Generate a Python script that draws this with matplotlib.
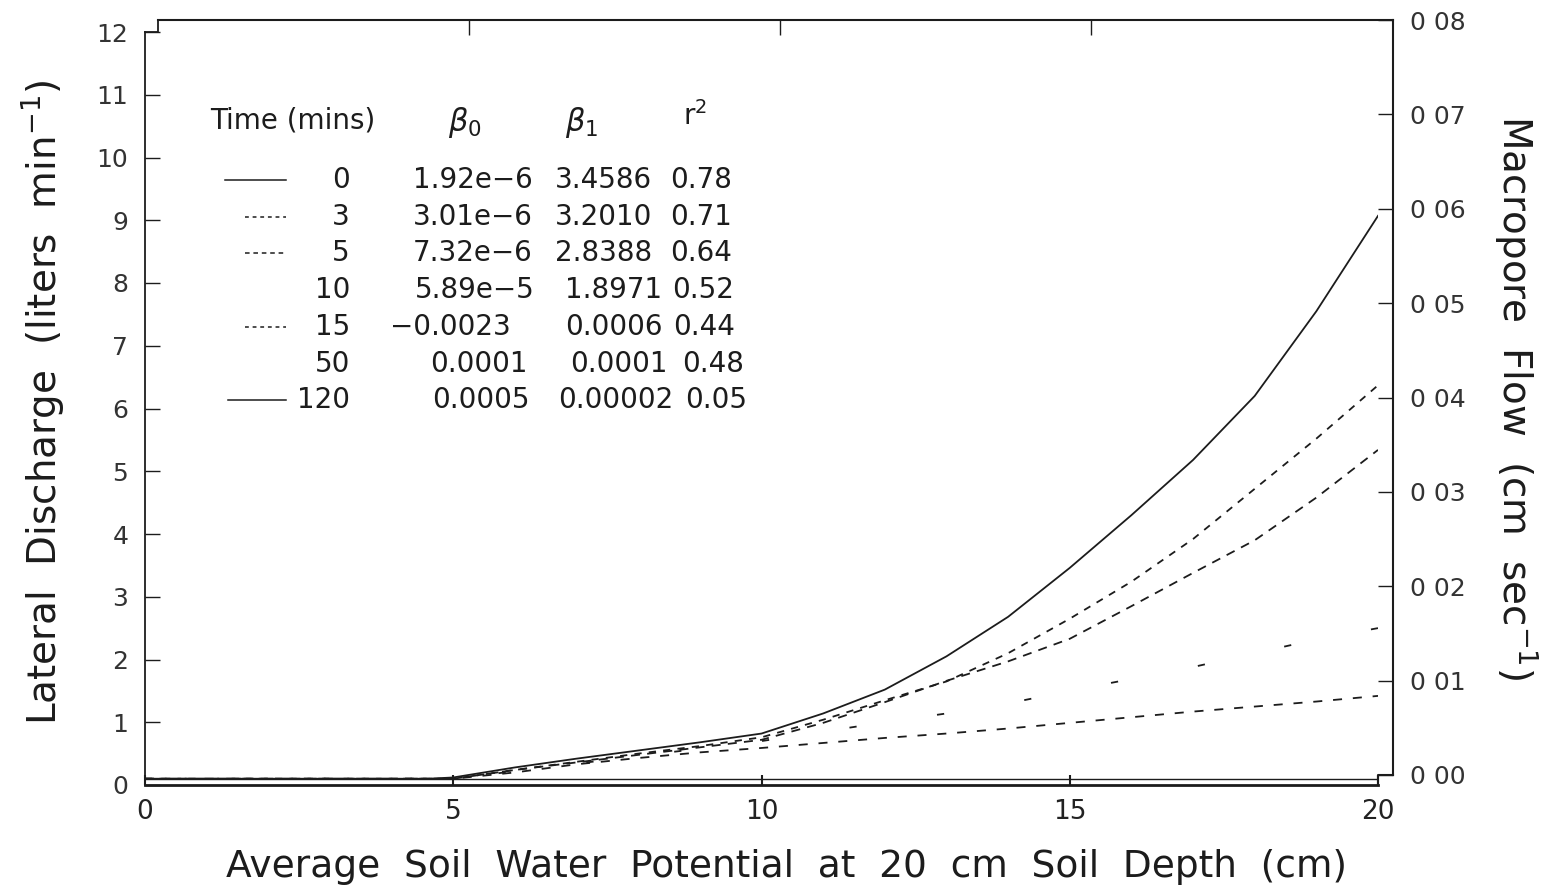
import matplotlib
matplotlib.use("Agg")
import matplotlib.pyplot as plt
from matplotlib.lines import Line2D
import numpy as np

plt.rcParams['font.family'] = ['DejaVu Sans']
plt.rcParams['mathtext.fontset'] = 'dejavusans'

INK = '#1c1c1c'

# soil water potential (cm)
x_pts = [0, 4.6, 5, 6, 7, 8, 9, 10, 11, 12, 13, 14, 15, 16, 17, 18, 19, 20]

# lateral discharge for each time after start of irrigation (liters/min)
q_t0 = [0.1, 0.1, 0.12, 0.28, 0.42, 0.55, 0.68, 0.82, 1.14, 1.52, 2.05, 2.68, 3.46, 4.3, 5.18, 6.2, 7.55, 9.07]
q_t3 = [0.1, 0.1, 0.1, 0.24, 0.37, 0.5, 0.62, 0.76, 1.04, 1.35, 1.65, 2.1, 2.65, 3.24, 3.92, 4.72, 5.52, 6.37]
q_t5 = [0.1, 0.1, 0.1, 0.24, 0.36, 0.48, 0.6, 0.72, 0.99, 1.32, 1.66, 1.97, 2.33, 2.85, 3.38, 3.9, 4.58, 5.34]
q_t10 = [0.1, 0.1, 0.1, 0.22, 0.34, 0.46, 0.58, 0.7, 0.85, 1.0, 1.14, 1.3, 1.5, 1.69, 1.88, 2.1, 2.32, 2.5]
q_t15 = [0.1, 0.1, 0.1, 0.2, 0.33, 0.43, 0.52, 0.59, 0.67, 0.75, 0.82, 0.9, 0.99, 1.08, 1.17, 1.25, 1.33, 1.42]
q_t120 = [0.1] * len(x_pts)

# regression table
times = ['0', '3', '5', '10', '15', '50', '120']
beta0 = ['1.92e\u22126', '3.01e\u22126', '7.32e\u22126', '5.89e\u22125', '\u22120.0023', '0.0001', '0.0005']
beta1 = ['3.4586', '3.2010', '2.8388', '1.8971', '0.0006', '0.0001', '0.00002']
rsq = ['0.78', '0.71', '0.64', '0.52', '0.44', '0.48', '0.05']

left_ticks = list(range(0, 13))
right_ticks = [0, 0.01, 0.02, 0.03, 0.04, 0.05, 0.06, 0.07, 0.08]
right_labels = ['0 00', '0 01', '0 02', '0 03', '0 04', '0 05', '0 06', '0 07', '0 08']

W, H = 1561, 890
fig = plt.figure(figsize=(W / 100, H / 100), dpi=100)


def fx(px):
    return px / W


def fy(py):
    return 1 - py / H


# left / bottom frame
ax = fig.add_axes([fx(145), fy(785), fx(1378) - fx(145), fy(32) - fy(785)])
# right / top frame, slightly offset
ax2 = fig.add_axes([fx(158), fy(775), fx(1393) - fx(158), fy(20) - fy(775)])
ax2.patch.set_alpha(0)

ax.set_xlim(0, 20)
ax.set_ylim(0, 12)
ax2.set_xlim(0, 19.86)
ax2.set_ylim(0, 0.08)

for s in ['top', 'right']:
    ax.spines[s].set_visible(False)
for s in ['left', 'bottom']:
    ax2.spines[s].set_visible(False)
ax.spines['left'].set_linewidth(1.3)
ax.spines['bottom'].set_linewidth(2.0)
ax2.spines['top'].set_linewidth(1.5)
ax2.spines['right'].set_linewidth(1.5)
for sp in list(ax.spines.values()) + list(ax2.spines.values()):
    sp.set_color(INK)

ax.set_yticks(left_ticks)
ax.set_xticks([0, 5, 10, 15, 20])
ax.tick_params(axis='y', direction='in', length=11, width=1.0, pad=12,
               labelsize=18, colors=INK, labelcolor='#333333')
ax.tick_params(axis='x', direction='in', length=7, width=1.5, pad=10,
               labelsize=19, colors=INK, labelcolor='#222222')

ax2.yaxis.tick_right()
ax2.xaxis.tick_top()
ax2.set_yticks(right_ticks)
ax2.set_yticklabels(right_labels)
ax2.set_xticks([5, 10, 15])
ax2.set_xticklabels([])
ax2.tick_params(axis='y', direction='in', length=11, width=1.0, pad=12,
                labelsize=18, colors=INK, labelcolor='#333333')
ax2.tick_params(axis='x', direction='in', length=11, width=1.0, colors=INK)

# small steps joining the two frames
fig.add_artist(Line2D([fx(145), fx(158), fx(158)], [fy(32), fy(32), fy(20)],
                      color=INK, lw=1.3))
fig.add_artist(Line2D([fx(1378), fx(1378), fx(1393)], [fy(785), fy(775), fy(775)],
                      color=INK, lw=1.5))

lw = 1.3
ax.plot(x_pts, q_t0, color=INK, lw=lw)
ax.plot(x_pts, q_t3, color=INK, lw=lw, dashes=(4, 4))
ax.plot(x_pts, q_t5, color=INK, lw=lw, dashes=(5, 4))
ax.plot(x_pts, q_t10, color=INK, lw=lw, dashes=(4, 45))
ax.plot(x_pts, q_t15, color=INK, lw=lw, dashes=(5, 6))
ax.plot(x_pts, q_t120, color=INK, lw=1.0)

ax.set_xlabel('Average  Soil  Water  Potential  at  20  cm  Soil  Depth  (cm)',
              fontsize=27, color=INK, labelpad=12)
ax.xaxis.set_label_coords((787 - 145) / (1378 - 145), -0.085)
ax.set_ylabel('Lateral  Discharge  (liters  min$^{-1}$)', fontsize=28, color=INK,
              labelpad=16)
ax.yaxis.set_label_coords(-0.064, (785 - 402) / (785 - 32))
ax2.set_ylabel('Macropore  Flow  (cm  sec$^{-1}$)', fontsize=28, color=INK,
               rotation=-90, labelpad=54)
ax2.yaxis.set_label_position('right')

# regression table drawn as text
fs = 20
fig.text(fx(210), fy(120), 'Time (mins)', fontsize=fs, color=INK, va='center')
fig.text(fx(448), fy(122), r'$\beta_0$', fontsize=fs + 2, color=INK, va='center')
fig.text(fx(565), fy(122), r'$\beta_1$', fontsize=fs + 2, color=INK, va='center')
fig.text(fx(683), fy(116), r'r$^2$', fontsize=fs, color=INK, va='center')

row_y = [180, 217, 253, 290, 327, 364, 400]
b0_x = [413, 413, 413, 415, 390, 430, 432]
b1_x = [555, 555, 555, 565, 565, 570, 558]
r2_x = [670, 670, 670, 672, 673, 682, 685]
for i, t in enumerate(times):
    y = fy(row_y[i])
    fig.text(fx(350), y, t, fontsize=fs, color=INK, va='center', ha='right')
    fig.text(fx(b0_x[i]), y, beta0[i], fontsize=fs, color=INK, va='center')
    fig.text(fx(b1_x[i]), y, beta1[i], fontsize=fs, color=INK, va='center')
    fig.text(fx(r2_x[i]), y, rsq[i], fontsize=fs, color=INK, va='center')

samples = {0: (225, '-'), 1: (245, (0, (2.5, 2.5))), 2: (245, (0, (3, 2.5))),
           4: (245, (0, (2.5, 2.5))), 6: (228, '-')}
for i, (x0, ls) in samples.items():
    fig.add_artist(Line2D([fx(x0), fx(286)], [fy(row_y[i])] * 2, color=INK,
                          lw=1.1, linestyle=ls))

fig.savefig('out.png', dpi=100)
